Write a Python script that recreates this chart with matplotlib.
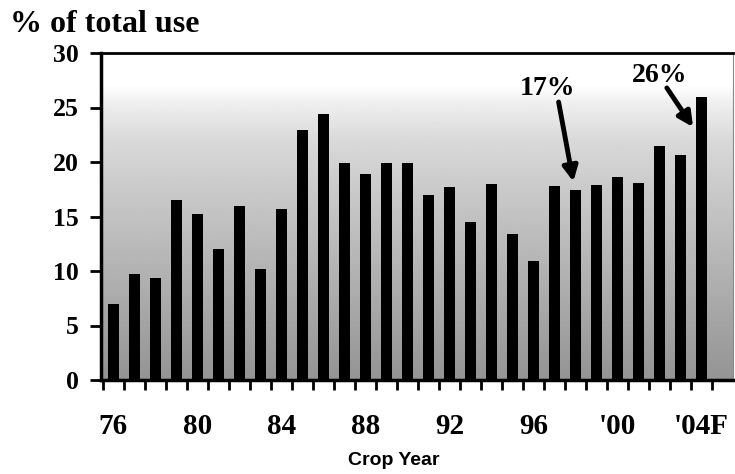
import numpy as np
import matplotlib
matplotlib.use('Agg')
import matplotlib.pyplot as plt

# Datos: % del uso total por campaña
anios = list(range(1976, 2005))
valores = [7.0, 9.7, 9.4, 16.5, 15.2, 12.0, 16.0, 10.2, 15.7, 22.9,
           24.4, 19.9, 18.9, 19.9, 19.9, 17.0, 17.7, 14.5, 18.0, 13.4,
           10.9, 17.8, 17.4, 17.9, 18.6, 18.1, 21.5, 20.6, 26.0]
etiquetas_x = ['76', '80', '84', '88', '92', '96', "'00", "'04F"]
ticks_y = [0, 5, 10, 15, 20, 25, 30]

serif = 'Liberation Serif'
sans = 'Liberation Sans'

fig = plt.figure(figsize=(7.35, 4.74), dpi=100)
ax = fig.add_axes([101 / 735, 1 - 380 / 474, 632 / 735, 327 / 474])

x = np.arange(len(anios))
xmin, xmax = -0.58, 29.5
ax.set_xlim(xmin, xmax)
ax.set_ylim(0, 30)

# Fondo degradado gris (blanco arriba, gris abajo)
yy = np.linspace(0, 30, 300)
gris = np.interp(yy, [0, 5, 15, 22, 25.5, 27, 30], [0.58, 0.64, 0.76, 0.85, 0.94, 1.0, 1.0])
ax.imshow(gris[:, None], extent=(xmin, xmax, 0, 30), origin='lower',
          aspect='auto', cmap='gray', vmin=0, vmax=1, zorder=0)

ax.bar(x, valores, width=0.52, color='black', zorder=2)

# Ejes
for lado in ['left', 'bottom']:
    ax.spines[lado].set_linewidth(2.5)
ax.spines['top'].set_linewidth(2)
ax.spines['right'].set_linewidth(0.8)
ax.spines['right'].set_color('#888888')

ax.set_yticks(ticks_y)
ax.set_yticklabels([str(t) for t in ticks_y], fontfamily=serif,
                   fontweight='bold', fontsize=18.5)
ax.tick_params(axis='y', direction='out', length=8, width=2, pad=8)

ax.set_xticks(np.arange(len(anios) + 1) - 0.5, minor=True)
ax.set_xticks(x[::4])
ax.set_xticklabels(etiquetas_x, fontfamily=serif, fontweight='bold', fontsize=21)
ax.tick_params(axis='x', which='major', length=0, pad=24)
ax.tick_params(axis='x', which='minor', direction='out', length=7, width=2)

fig.text(394 / 735, 1 - 465 / 474, 'Crop Year', ha='center', va='baseline',
         fontfamily=sans, fontweight='bold', fontsize=14)
fig.text(10 / 735, 1 - 32 / 474, '% of total use', ha='left', va='baseline',
         fontfamily=serif, fontweight='bold', fontsize=23)

# Anotaciones
flecha = dict(arrowstyle='-|>', lw=3.5, mutation_scale=22, color='black',
              shrinkA=0, shrinkB=0)
ax.text(20.67, 26.7, '17%', ha='center', va='center', fontfamily=serif,
        fontweight='bold', fontsize=20, zorder=4)
ax.annotate('', xy=(21.9, 18.2), xytext=(21.2, 25.5), arrowprops=flecha, zorder=4)
ax.text(26.0, 27.9, '26%', ha='center', va='center', fontfamily=serif,
        fontweight='bold', fontsize=20, zorder=4)
ax.annotate('', xy=(27.6, 23.2), xytext=(26.35, 26.8), arrowprops=flecha, zorder=4)

fig.savefig('out.png', dpi=100)
